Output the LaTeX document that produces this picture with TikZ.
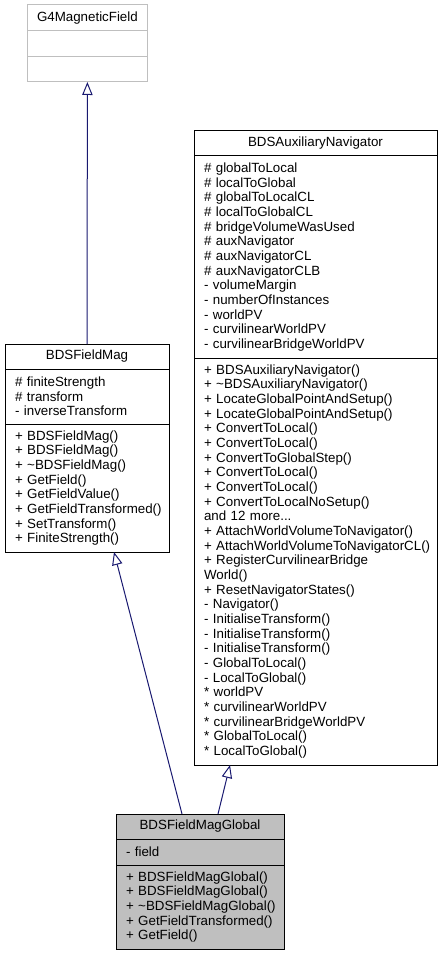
\documentclass[tikz,border=0pt]{standalone}
\usepackage{fontspec}
\setmainfont{Liberation Sans}
\usepackage{tikz}
\usetikzlibrary{calc, positioning, arrows.meta}
\definecolor{edgenavy}{HTML}{191970}
\definecolor{classgray}{HTML}{BFBFBF}
\newcommand{\classfont}{\fontsize{10}{11}\selectfont\hyphenpenalty=10000\relax\exhyphenpenalty=10000\relax}
\tikzset{
  classbox/.style={draw, rectangle, outer sep=0pt, inner ysep=0pt, inner xsep=7.5pt, line width=0.75pt, font=\classfont},
  classtitle/.style={classbox, align=center, minimum height=18.75pt},
  compart/.style={classbox, align=left, text width=#1},
  inherit/.style={draw=edgenavy, line width=0.75pt, -{Triangle[open, length=9.75pt, width=7.75pt]}}
}
\begin{document}
\begin{tikzpicture}[x=0.75pt, y=-0.75pt]
  \useasboundingbox (0,0) rectangle (442,955);

  \node[classtitle, draw=classgray, minimum width=90pt, minimum height=19.5pt, anchor=north west] (g4Title) at (27,5) {G4MagneticField};
  \node[compart=75pt, draw=classgray, minimum height=19.5pt, below=0pt of g4Title] (g4Attr) {};
  \node[compart=75pt, draw=classgray, minimum height=18.75pt, below=0pt of g4Attr] (g4Methods) {};

  \node[classtitle, minimum width=182.25pt, anchor=north west] (navTitle) at (194,131) {BDSAuxiliaryNavigator};
  \node[compart=167.25pt, minimum height=151.5pt, below=0pt of navTitle] (navAttr) {\# globalToLocal\\
    \# localToGlobal\\
    \# globalToLocalCL\\
    \# localToGlobalCL\\
    \# bridgeVolumeWasUsed\\
    \# auxNavigator\\
    \# auxNavigatorCL\\
    \# auxNavigatorCLB\\
    - volumeMargin\\
    - numberOfInstances\\
    - worldPV\\
    - curvilinearWorldPV\\
    - curvilinearBridgeWorldPV};
  \node[compart=167.25pt, minimum height=305.25pt, below=0pt of navAttr] (navMethods) {+ BDSAuxiliaryNavigator()\\
    + \textasciitilde BDSAuxiliaryNavigator()\\
    + LocateGlobalPointAndSetup()\\
    + LocateGlobalPointAndSetup()\\
    + ConvertToLocal()\\
    + ConvertToLocal()\\
    + ConvertToGlobalStep()\\
    + ConvertToLocal()\\
    + ConvertToLocal()\\
    + ConvertToLocalNoSetup()\\
    and 12 more...\\
    +~AttachWorldVolumeToNavigator()\\
    +~AttachWorldVolumeToNavigatorCL()\\
    + RegisterCurvilinearBridge\\
    World()\\
    + ResetNavigatorStates()\\
    - Navigator()\\
    - InitialiseTransform()\\
    - InitialiseTransform()\\
    - InitialiseTransform()\\
    - GlobalToLocal()\\
    - LocalToGlobal()\\
    {*} worldPV\\
    {*} curvilinearWorldPV\\
    {*} curvilinearBridgeWorldPV\\
    {*} GlobalToLocal()\\
    {*} LocalToGlobal()};

  \node[classtitle, minimum width=123pt, anchor=north west] (fieldMagTitle) at (5,344) {BDSFieldMag};
  \node[compart=108pt, minimum height=41.25pt, below=0pt of fieldMagTitle] (fieldMagAttr) {\# finiteStrength\\
    \# transform\\
    - inverseTransform};
  \node[compart=108pt, minimum height=96pt, below=0pt of fieldMagAttr] (fieldMagMethods) {+ BDSFieldMag()\\
    + BDSFieldMag()\\
    + \textasciitilde BDSFieldMag()\\
    + GetField()\\
    + GetFieldValue()\\
    +~GetFieldTransformed()\\
    + SetTransform()\\
    + FiniteStrength()};

  \node[classtitle, fill=classgray, minimum width=126pt, anchor=north west] (globalTitle) at (116,814) {BDSFieldMagGlobal};
  \node[compart=111pt, fill=classgray, minimum height=19.5pt, below=0pt of globalTitle] (globalAttr) {- field};
  \node[compart=111pt, fill=classgray, minimum height=63pt, below=0pt of globalAttr] (globalMethods) {+ BDSFieldMagGlobal()\\
    + BDSFieldMagGlobal()\\
    +~\textasciitilde BDSFieldMagGlobal()\\
    +~GetFieldTransformed()\\
    + GetField()};

  \draw[inherit] (fieldMagTitle.north) -- (g4Methods.south);
  \draw[inherit] ($(globalTitle.north west)+(66,0)$) -- ($(fieldMagMethods.south west)+(109,0)$);
  \draw[inherit] ($(globalTitle.north west)+(102,0)$) -- ($(navMethods.south west)+(36,0)$);
\end{tikzpicture}
\end{document}
